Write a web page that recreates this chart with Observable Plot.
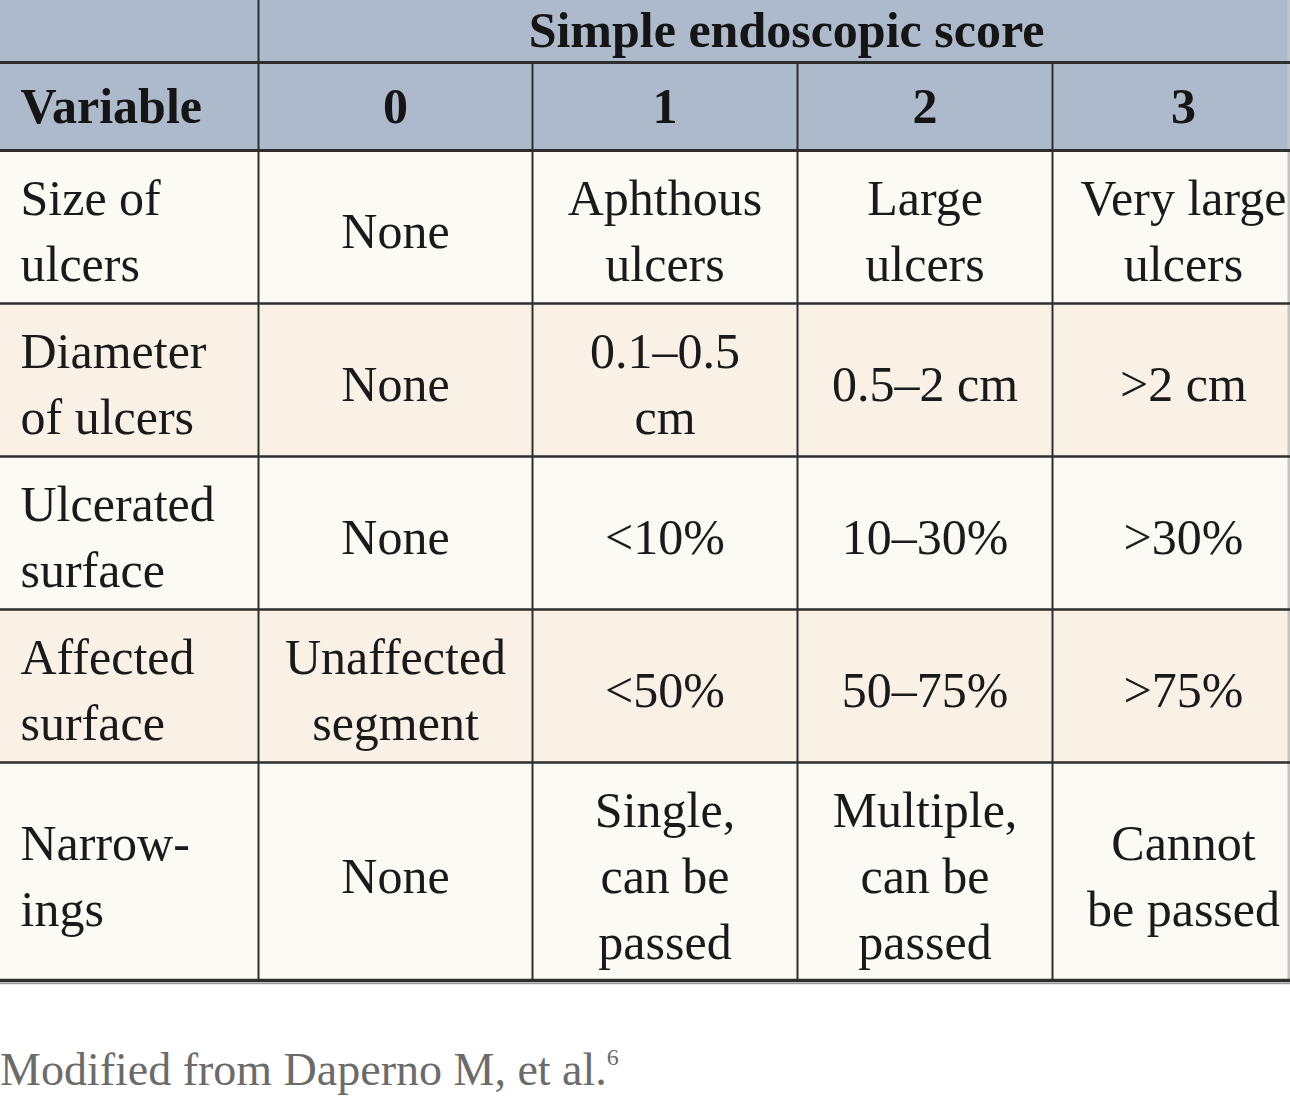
<!DOCTYPE html>
<html>
<head>
<meta charset="utf-8">
<script src="https://cdn.jsdelivr.net/npm/d3@7"></script>
<script src="https://cdn.jsdelivr.net/npm/@observablehq/plot@0.6"></script>
<style>
  html, body { margin: 0; padding: 0; background: #ffffff; overflow: hidden; width: 1290px; }
  #chart svg { display: block; background: transparent; }
  #caption {
    font-family: "Liberation Serif", serif;
    font-size: 46px;
    color: #6b6b6b;
    margin-top: 57px;
    line-height: 1.2;
    white-space: nowrap;
  }
  #caption sup { font-size: 24px; vertical-align: 20px; }
</style>
</head>
<body>
<div id="chart"></div>
<div id="caption">Modified from Daperno M, et al.<sup>6</sup></div>
<script>
// ---- Data ----
const groupTitle = "Simple endoscopic score";
const variableHeader = "Variable";
const scores = ["0", "1", "2", "3"];
const variables = ["Size of\nulcers", "Diameter\nof ulcers", "Ulcerated\nsurface", "Affected\nsurface", "Narrow-\nings"];
const score0 = ["None", "None", "None", "Unaffected\nsegment", "None"];
const score1 = ["Aphthous\nulcers", "0.1–0.5\ncm", "<10%", "<50%", "Single,\ncan be\npassed"];
const score2 = ["Large\nulcers", "0.5–2 cm", "10–30%", "50–75%", "Multiple,\ncan be\npassed"];
const score3 = ["Very large\nulcers", ">2 cm", ">30%", ">75%", "Cannot\nbe passed"];

// ---- Layout (pixel grid of the table) ----
const W = 1290, H = 985;
const colEdges = [0, 258, 532, 797, 1052, 1314];
const rowEdges = [0, 62, 150, 303, 456, 609, 762, 980];
const headerFill = "#adbacb";
const rowFills = ["#fbfaf4", "#f9f1e6"];
const lineColor = "#2e2e2e";
const font = "Liberation Serif";

const scoreCols = [score0, score1, score2, score3];

// cell backgrounds
const bg = [];
bg.push({x1: colEdges[0], x2: colEdges[5], y1: rowEdges[0], y2: rowEdges[2], fill: headerFill});
variables.forEach((v, i) => {
  bg.push({x1: colEdges[0], x2: colEdges[5], y1: rowEdges[i + 2], y2: rowEdges[i + 3], fill: rowFills[i % 2]});
});

// texts
const headerTexts = [];
headerTexts.push({x: (colEdges[1] + colEdges[5]) / 2, y: (rowEdges[0] + rowEdges[1]) / 2 - 1, t: groupTitle, anchor: "middle"});
headerTexts.push({x: colEdges[0] + 20, y: (rowEdges[1] + rowEdges[2]) / 2, t: variableHeader, anchor: "start"});
scores.forEach((s, j) => {
  headerTexts.push({x: (colEdges[j + 1] + colEdges[j + 2]) / 2, y: (rowEdges[1] + rowEdges[2]) / 2, t: s, anchor: "middle"});
});

const bodyTexts = [];
variables.forEach((v, i) => {
  const yc = (rowEdges[i + 2] + rowEdges[i + 3]) / 2;
  bodyTexts.push({x: colEdges[0] + 20, y: yc, t: v, anchor: "start"});
  scoreCols.forEach((col, j) => {
    bodyTexts.push({x: (colEdges[j + 1] + colEdges[j + 2]) / 2, y: yc, t: col[i], anchor: "middle"});
  });
});

// grid lines
const hLines = rowEdges.slice(1).map((y, k) => ({y, w: (k === 0 || k === 1) ? 3 : (k === rowEdges.length - 2 ? 3.5 : 2.5)}));
const vLines = colEdges.slice(1, 5).map((x, k) => ({x, y1: k === 0 ? 0 : rowEdges[1], y2: rowEdges[rowEdges.length - 1]}));

const chart = Plot.plot({
  width: W,
  height: H,
  margin: 0,
  x: {type: "linear", domain: [0, W], range: [0, W], axis: null},
  y: {type: "linear", domain: [0, H], range: [0, H], axis: null},
  style: {background: "transparent"},
  marks: [
    Plot.rect(bg, {x1: "x1", x2: "x2", y1: "y1", y2: "y2", fill: d => d.fill}),
    Plot.ruleX([W - 1.5], {y1: 0, y2: rowEdges[rowEdges.length - 1], stroke: "#c4c4c4", strokeWidth: 3}),
    Plot.ruleY(hLines, {y: "y", x1: 0, x2: colEdges[5], stroke: lineColor, strokeWidth: "w"}),
    Plot.ruleY([rowEdges[rowEdges.length - 1] + 3], {x1: 0, x2: colEdges[5], stroke: "#9a9a9a", strokeWidth: 1.5}),
    Plot.ruleX(vLines, {x: "x", y1: "y1", y2: "y2", stroke: lineColor, strokeWidth: 2}),
    Plot.text(headerTexts.filter(d => d.anchor === "middle"), {x: "x", y: "y", text: "t", textAnchor: "middle", fontFamily: font, fontSize: 50, fontWeight: "bold", fill: "#151515"}),
    Plot.text(headerTexts.filter(d => d.anchor === "start"), {x: "x", y: "y", text: "t", textAnchor: "start", fontFamily: font, fontSize: 50, fontWeight: "bold", fill: "#151515"}),
    Plot.text(bodyTexts.filter(d => d.anchor === "middle"), {x: "x", y: "y", text: "t", textAnchor: "middle", lineHeight: 1.32, fontFamily: font, fontSize: 50, fill: "#1a1a1a"}),
    Plot.text(bodyTexts.filter(d => d.anchor === "start"), {x: "x", y: "y", text: "t", textAnchor: "start", lineHeight: 1.32, fontFamily: font, fontSize: 50, fill: "#1a1a1a"})
  ]
});
document.getElementById("chart").appendChild(chart);
</script>
</body>
</html>
